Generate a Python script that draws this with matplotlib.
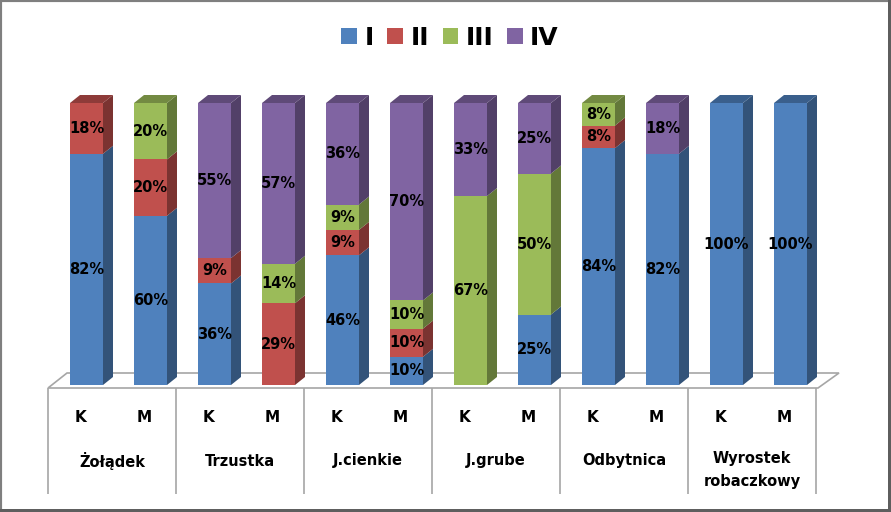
import matplotlib
matplotlib.use("Agg")
import matplotlib.pyplot as plt
from matplotlib.patches import Polygon, Patch, Rectangle
import numpy as np

# ---------------- data ----------------
groups = ["Żołądek", "Trzustka", "J.cienkie", "J.grube", "Odbytnica", "Wyrostek\nrobaczkowy"]
subcats = ["K", "M"]
series_names = ["I", "II", "III", "IV"]
s_I   = [82, 60, 36, 0, 46, 10, 0, 25, 84, 82, 100, 100]
s_II  = [18, 20, 9, 29, 9, 10, 0, 0, 8, 0, 0, 0]
s_III = [0, 20, 0, 14, 9, 10, 67, 50, 8, 0, 0, 0]
s_IV  = [0, 0, 55, 57, 36, 70, 33, 25, 0, 18, 0, 0]
colors = ["#4F81BD", "#C0504D", "#9BBB59", "#8064A2"]

series = [s_I, s_II, s_III, s_IV]
n = len(s_I)

# ---------------- layout ----------------
W, H = 891, 512
fig = plt.figure(figsize=(W / 100, H / 100), dpi=100)
ax = fig.add_axes([0, 0, 1, 1])
ax.axis("off")

X0, XS = 86.5, 64.0      # pixel of first bar centre, pixel spacing
Y0, YS = 385.0, 2.82     # pixel of baseline, pixels per percent


def X(p):
    return (p - X0) / XS


def Y(p):
    return (Y0 - p) / YS


ax.set_xlim(X(0), X(W))
ax.set_ylim(Y(H), Y(0))

bw = 33 / XS
dx = 10 / XS
dy = 8 / YS
lbl_shift = 6.5 / XS


def shade(c, f):
    r, g, b = matplotlib.colors.to_rgb(c)
    return (r * f, g * f, b * f)


# floor
floor = Polygon([(X(48), Y(388)), (X(67), Y(373)), (X(839), Y(373)), (X(818), Y(388))],
                closed=True, facecolor="white", edgecolor="#A6A6A6", lw=1.2, zorder=1)
ax.add_patch(floor)

# bars
xs = np.arange(n)
bottoms = np.zeros(n)
tops = np.array([sum(s[i] for s in series) for i in range(n)])
for k, (vals, c) in enumerate(zip(series, colors)):
    vals = np.array(vals, dtype=float)
    ax.bar(xs, vals, bottom=bottoms, width=bw, color=c, edgecolor="none", zorder=3)
    for i in range(n):
        v = vals[i]
        if v <= 0:
            continue
        b = bottoms[i]
        x1 = xs[i] + bw / 2
        x0 = xs[i] - bw / 2
        side = Polygon([(x1, b), (x1, b + v), (x1 + dx, b + v + dy), (x1 + dx, b + dy)],
                       closed=True, facecolor=shade(c, 0.64), edgecolor="none", zorder=2.5)
        ax.add_patch(side)
        if abs(b + v - tops[i]) < 1e-6:
            top = Polygon([(x0, b + v), (x1, b + v), (x1 + dx, b + v + dy), (x0 + dx, b + v + dy)],
                          closed=True, facecolor=shade(c, 0.74), edgecolor="none", zorder=2.5)
            ax.add_patch(top)
        ax.text(xs[i], b + v / 2, f"{int(v)}%", ha="center", va="center",
                fontsize=10.5, fontweight="bold", color="black", zorder=5,
                family="DejaVu Sans")
    bottoms = bottoms + vals

# category table
line_c = "#A6A6A6"
for g in range(len(groups) + 1):
    xb = 2 * g - 0.5 - lbl_shift
    ax.plot([xb, xb], [Y(388), Y(494)], color=line_c, lw=1.2, zorder=1, solid_capstyle="butt")
for i in range(n):
    ax.text(xs[i] - lbl_shift, Y(418), subcats[i % 2], ha="center", va="center",
            fontsize=11, fontweight="bold", family="DejaVu Sans")
for g, name in enumerate(groups):
    yc = Y(470) if "\n" in name else Y(461)
    ax.text(2 * g + 0.5 - lbl_shift, yc, name, ha="center", va="center",
            fontsize=10.5, fontweight="bold", family="DejaVu Sans", linespacing=1.6)

# legend
handles = [Patch(facecolor=c, edgecolor="none") for c in colors]
fig.legend(handles, series_names, loc="center", bbox_to_anchor=(450 / W, 1 - 38 / H),
           ncol=4, frameon=False, handlelength=0.62, handleheight=0.62,
           handletextpad=0.3, columnspacing=0.55,
           prop={"family": "DejaVu Sans", "weight": "bold", "size": 18})

# frame
fig.patches.append(Rectangle((0, 0), 1, 1, transform=fig.transFigure, fill=False,
                             edgecolor="#7F7F7F", lw=3.0, zorder=10))
fig.patches.append(Rectangle((1 - 3 / W, 0), 3 / W, 1, transform=fig.transFigure,
                             facecolor="#5E5E5E", edgecolor="none", zorder=10))
fig.patches.append(Rectangle((0, 0), 1, 3 / H, transform=fig.transFigure,
                             facecolor="#5E5E5E", edgecolor="none", zorder=10))

fig.savefig("out.png", dpi=100)
